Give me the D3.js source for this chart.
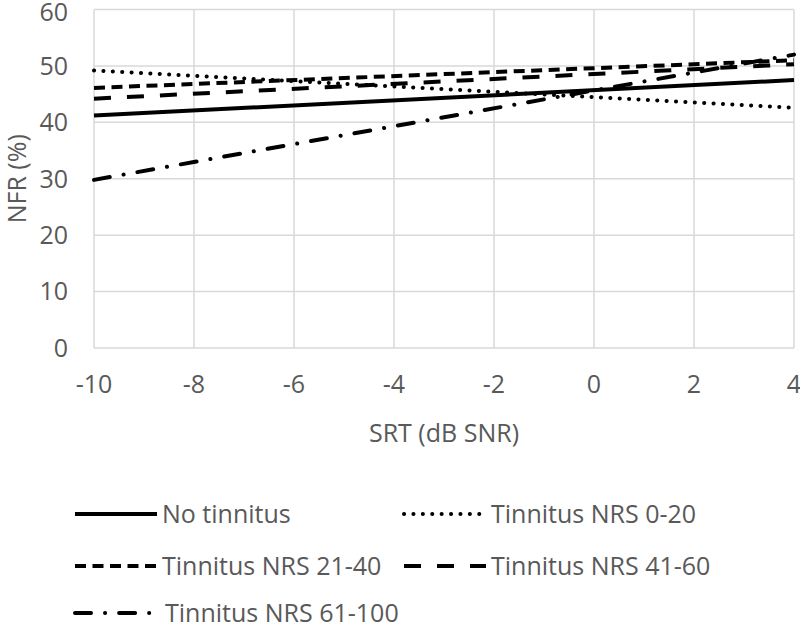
<!DOCTYPE html>
<html>
<head>
<meta charset="utf-8">
<script src="https://cdn.jsdelivr.net/npm/d3@7"></script>
<style>
  body { margin: 0; background: #fff; }
  text { font-family: "Open Sans", sans-serif; fill: #595959; }
</style>
</head>
<body>
<div id="chart"></div>
<script>
// x = SRT (dB SNR), y = NFR (%) — two end points per fitted line
const xEnds = [-10, 4];
const seriesNames = ["No tinnitus", "Tinnitus NRS 0-20", "Tinnitus NRS 21-40", "Tinnitus NRS 41-60", "Tinnitus NRS 61-100"];
const noTinnitus = [41.2, 47.5];
const nrs0to20 = [49.2, 42.6];
const nrs21to40 = [46.1, 51.0];
const nrs41to60 = [44.2, 50.3];
const nrs61to100 = [29.8, 52.0];
const xTicks = [-10, -8, -6, -4, -2, 0, 2, 4];
const yTicks = [0, 10, 20, 30, 40, 50, 60];

const width = 800, height = 628;
const margin = { top: 9.5, right: 6, bottom: 280, left: 94 };
const fontSize = "25px";

const svg = d3.select("#chart").append("svg")
  .attr("width", width).attr("height", height);

const x = d3.scaleLinear().domain([-10, 4]).range([margin.left, width - margin.right]);
const y = d3.scaleLinear().domain([0, 60]).range([height - margin.bottom, margin.top]);

// grid
svg.append("g").selectAll("line").data(xTicks).join("line")
  .attr("x1", d => x(d)).attr("x2", d => x(d))
  .attr("y1", y(0)).attr("y2", y(60))
  .attr("stroke", "#d9d9d9").attr("stroke-width", 1.5);
svg.append("g").selectAll("line").data(yTicks).join("line")
  .attr("x1", x(-10)).attr("x2", x(4))
  .attr("y1", d => y(d)).attr("y2", d => y(d))
  .attr("stroke", "#d9d9d9").attr("stroke-width", 1.5);

// tick labels (top one nudged down so it is not clipped)
svg.append("g").selectAll("text").data(yTicks).join("text")
  .attr("x", 68).attr("y", d => y(d) + (d === 60 ? 3 : 0)).attr("dy", "0.35em")
  .attr("text-anchor", "end").style("font-size", fontSize)
  .text(d => d);
svg.append("g").selectAll("text").data(xTicks).join("text")
  .attr("x", d => x(d)).attr("y", 384).attr("dy", "0.35em")
  .attr("text-anchor", "middle").style("font-size", fontSize)
  .text(d => d);

svg.append("text")
  .attr("x", 444).attr("y", 433).attr("dy", "0.35em")
  .attr("text-anchor", "middle").style("font-size", fontSize)
  .text("SRT (dB SNR)");
svg.append("text")
  .attr("transform", `translate(17,${y(30)}) rotate(-90)`)
  .attr("dy", "0.35em")
  .attr("text-anchor", "middle").style("font-size", fontSize)
  .text("NFR (%)");

const styles = [
  { dash: null, cap: "butt" },
  { dash: "0.1,9.3", cap: "round" },
  { dash: "11,6.5", cap: "butt" },
  { dash: "17,16", cap: "butt" },
  { dash: "16,14,0.1,14", cap: "round" }
];
const values = [noTinnitus, nrs0to20, nrs21to40, nrs41to60, nrs61to100];

const line = d3.line().x(d => x(d[0])).y(d => y(d[1]));

svg.append("g").selectAll("path").data(values).join("path")
  .attr("d", v => line(xEnds.map((xv, i) => [xv, v[i]])))
  .attr("fill", "none").attr("stroke", "#000").attr("stroke-width", 4)
  .attr("stroke-dasharray", (d, i) => styles[i].dash)
  .attr("stroke-linecap", (d, i) => styles[i].cap);

// legend
const legendPos = [[75, 514], [404, 514], [75, 566], [404, 566], [75, 613]];
const leg = svg.append("g").selectAll("g").data(seriesNames).join("g")
  .attr("transform", (d, i) => `translate(${legendPos[i][0]},${legendPos[i][1]})`);
leg.append("line")
  .attr("x1", 0).attr("x2", 82).attr("y1", 0).attr("y2", 0)
  .attr("stroke", "#000").attr("stroke-width", 4)
  .attr("stroke-dasharray", (d, i) => styles[i].dash)
  .attr("stroke-linecap", (d, i) => styles[i].cap);
leg.append("text")
  .attr("x", (d, i) => i === 4 ? 90 : 87).attr("y", 0).attr("dy", "0.35em")
  .style("font-size", fontSize)
  .text(d => d);
</script>
</body>
</html>
